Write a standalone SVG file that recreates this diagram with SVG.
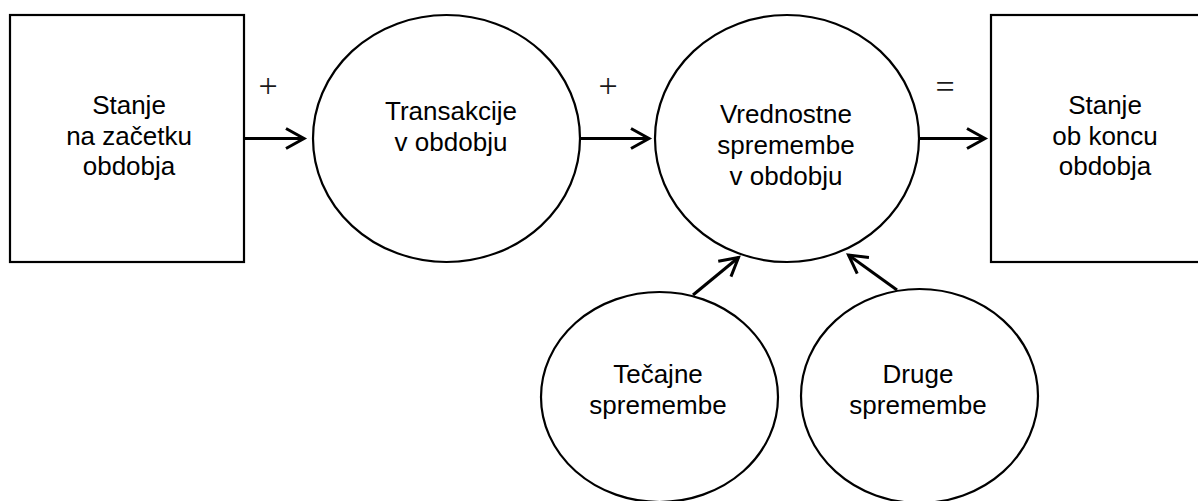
<svg xmlns="http://www.w3.org/2000/svg" width="1198" height="501" viewBox="0 0 1198 501">
<style>
.shape{fill:#fff;stroke:#000;stroke-width:2.2}
.lbl{font-family:"Liberation Sans",Arial,sans-serif;font-size:26px;fill:#000;text-anchor:middle}
.op{font-family:"Liberation Serif","Times New Roman",serif;font-size:34px;fill:#1a1a1a;text-anchor:middle}
.conn{fill:none;stroke:#000;stroke-width:3}
</style>
<defs>
<marker id="ah" markerUnits="userSpaceOnUse" viewBox="-22 -14 28 28" markerWidth="28" markerHeight="28" refX="0" refY="0" orient="auto">
<path d="M-18,-10 L0,0 L-18,10" fill="none" stroke="#000" stroke-width="3"/>
</marker>
</defs>
<rect width="1198" height="501" fill="#fff"/>
<g id="node-start">
<rect class="shape" x="10" y="15" width="234" height="247"/>
<text class="lbl" x="129" y="114">Stanje</text>
<text class="lbl" x="129" y="144.5">na začetku</text>
<text class="lbl" x="129" y="175">obdobja</text>
</g>
<g id="node-transakcije">
<ellipse class="shape" cx="446.5" cy="138.5" rx="133.5" ry="123.5"/>
<text class="lbl" x="451" y="120">Transakcije</text>
<text class="lbl" x="451" y="151">v obdobju</text>
</g>
<g id="node-vrednostne">
<ellipse class="shape" cx="787" cy="138.5" rx="132" ry="123.5"/>
<text class="lbl" x="786" y="123">Vrednostne</text>
<text class="lbl" x="786" y="154">spremembe</text>
<text class="lbl" x="786" y="185">v obdobju</text>
</g>
<g id="node-end">
<rect class="shape" x="991" y="15" width="230" height="247"/>
<text class="lbl" x="1105" y="114">Stanje</text>
<text class="lbl" x="1105" y="144.5">ob koncu</text>
<text class="lbl" x="1105" y="175">obdobja</text>
</g>
<g id="node-tecajne">
<ellipse class="shape" cx="659.5" cy="397" rx="118.5" ry="105"/>
<text class="lbl" x="658" y="383">Tečajne</text>
<text class="lbl" x="658" y="414">spremembe</text>
</g>
<g id="node-druge">
<ellipse class="shape" cx="919.5" cy="396" rx="118.5" ry="107"/>
<text class="lbl" x="918" y="383">Druge</text>
<text class="lbl" x="918" y="414">spremembe</text>
</g>
<g id="connectors">
<line class="conn" x1="244" y1="138.5" x2="304" y2="138.5" marker-end="url(#ah)"/>
<line class="conn" x1="580" y1="138.5" x2="649" y2="138.5" marker-end="url(#ah)"/>
<line class="conn" x1="919" y1="138.5" x2="985" y2="138.5" marker-end="url(#ah)"/>
<line class="conn" x1="693" y1="295" x2="738.5" y2="257.5" marker-end="url(#ah)"/>
<line class="conn" x1="897" y1="290" x2="848.5" y2="255" marker-end="url(#ah)"/>
<text class="op" x="268" y="97">+</text>
<text class="op" x="608" y="97">+</text>
<text class="op" x="945" y="98">=</text>
</g>
</svg>
